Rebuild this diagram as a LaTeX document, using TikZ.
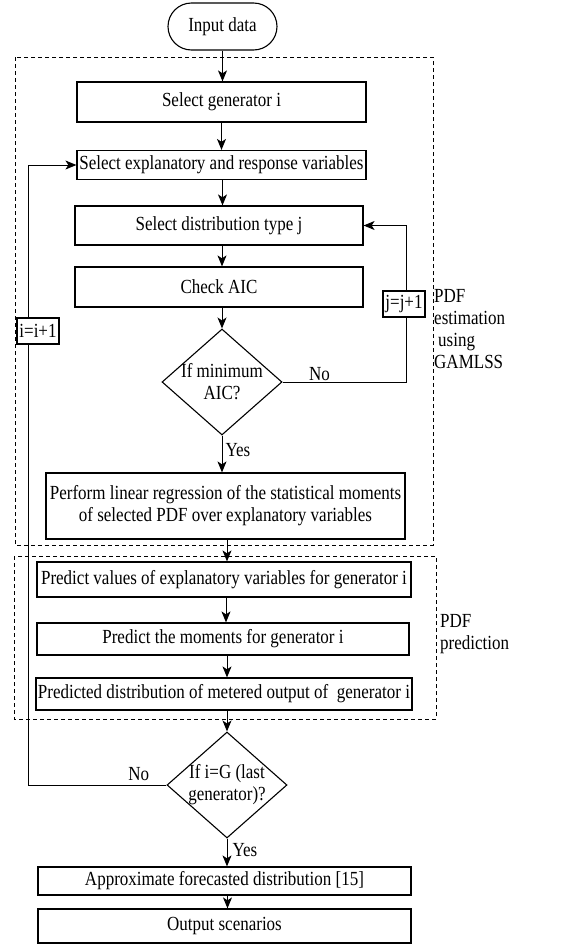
\documentclass[tikz,border=0pt]{standalone}
\usepackage{fontspec}
\setmainfont{Liberation Serif}[FakeStretch=0.85]
\usetikzlibrary{shapes.geometric,shapes.misc,arrows.meta}

\begin{document}
\begin{tikzpicture}[
    x=1pt, y=-1pt,
    font=\fontsize{20}{22}\selectfont,
    box/.style={rectangle, draw, line width=1.2pt, inner sep=0pt, align=center},
    terminal/.style={rounded rectangle, draw, line width=1.1pt, minimum width=109pt, minimum height=47pt, inner sep=0pt},
    decision/.style={diamond, draw, line width=1.1pt, minimum width=120pt, minimum height=106pt, inner sep=0pt},
    counter/.style={rectangle, draw, line width=1.2pt, fill=white, inner sep=1pt, minimum width=42pt, minimum height=26pt},
    flow/.style={-{Stealth[length=11pt,width=9pt,inset=3pt]}, line width=1pt},
    loop/.style={line width=1pt},
    group/.style={line width=0.9pt, dash pattern=on 4pt off 3pt},
    note/.style={align=left, inner sep=0pt, anchor=north west}
]
    \useasboundingbox (0,0) rectangle (584,945);

    % Groups
    \draw[group] (15,57) rectangle (433,545);
    \draw[group] (14,556) rectangle (436,719);
    \node[note] (estnote) at (434,289) {PDF\\estimation\\\hspace*{4pt}using\\GAMLSS};
    \node[note] (prednote) at (440,614) {PDF\\prediction};

    % Steps
    \node[terminal] (input) at (222.5,26.5) {Input data};
    \node[box, minimum width=289pt, minimum height=40pt] (selgen) at (221.5,102) {Select generator i};
    \node[box, minimum width=289pt, minimum height=29pt] (selvar) at (221.5,165) {Select explanatory and response variables};
    \node[box, minimum width=288pt, minimum height=39pt] (seldist) at (219,225.5) {Select distribution type j};
    \node[box, minimum width=288pt, minimum height=40pt] (checkaic) at (219,287) {Check AIC};
    \node[decision, label={[align=center, font=\fontsize{20}{22}\selectfont]center:If minimum\\AIC?}] (ifaic) at (222,382) {};
    \node[box, minimum width=359pt, minimum height=66pt] (regress) at (225.5,506) {Perform linear regression of the statistical moments\\of selected PDF over explanatory variables};
    \node[box, minimum width=374pt, minimum height=35pt] (predvar) at (224,579.5) {Predict values of explanatory variables for generator i};
    \node[box, minimum width=372pt, minimum height=32pt] (predmom) at (223,639) {Predict the moments for generator i};
    \node[box, minimum width=376pt, minimum height=32pt] (preddist) at (224,694) {Predicted distribution of metered output of \ generator i};
    \node[decision, label={[align=center, font=\fontsize{20}{22}\selectfont]center:If i=G (last\\generator)?}] (iflast) at (227,785) {};
    \node[box, minimum width=373pt, minimum height=28pt] (approx) at (224.5,881) {Approximate forecasted distribution [15]};
    \node[box, minimum width=373pt, minimum height=34pt] (output) at (224.5,926) {Output scenarios};

    % Counters
    \node[counter] (jinc) at (404,304) {j=j+1};
    \node[counter] (iinc) at (38,331) {i=i+1};

    % Main flow
    \draw[flow] (input.south) -- (input.south |- selgen.north);
    \draw[flow] (selgen.south) -- (selgen.south |- selvar.north);
    \draw[flow] ([xshift=1pt]selvar.south) -- ([xshift=1pt]selvar.south |- seldist.north);
    \draw[flow] ([xshift=3pt]seldist.south) -- ([xshift=3pt]seldist.south |- checkaic.north);
    \draw[flow] ([xshift=3pt]checkaic.south) -- (ifaic.north);
    \draw[flow] (ifaic.south) -- (ifaic.south |- regress.north) node[midway, right, inner sep=3pt, yshift=4pt] {Yes};
    \draw[flow] ([xshift=1.5pt]regress.south) -- ([xshift=1.5pt]regress.south |- predvar.north);
    \draw[flow] ([xshift=2pt]predvar.south) -- ([xshift=2pt]predvar.south |- predmom.north);
    \draw[flow] ([xshift=4pt]predmom.south) -- ([xshift=4pt]predmom.south |- preddist.north);
    \draw[flow] ([xshift=3pt]preddist.south) -- (iflast.north);
    \draw[flow] (iflast.south) -- (iflast.south |- approx.north) node[midway, right, inner sep=5pt, yshift=2pt] {Yes};
    \draw[flow] ([xshift=3pt]approx.south) -- ([xshift=3pt]approx.south |- output.north);

    % Loops
    \draw[loop] (ifaic.east) -| ([xshift=2pt]jinc.south) node[pos=0.15, above, inner sep=1pt] {No};
    \draw[flow] ([xshift=2pt]jinc.north) |- (seldist.east);
    \draw[loop] (iflast.west) -| ([xshift=-10pt]iinc.south) node[pos=0.1, above, inner sep=4pt] {No};
    \draw[flow] ([xshift=-10pt]iinc.north) |- (selvar.west);

\end{tikzpicture}
\end{document}
